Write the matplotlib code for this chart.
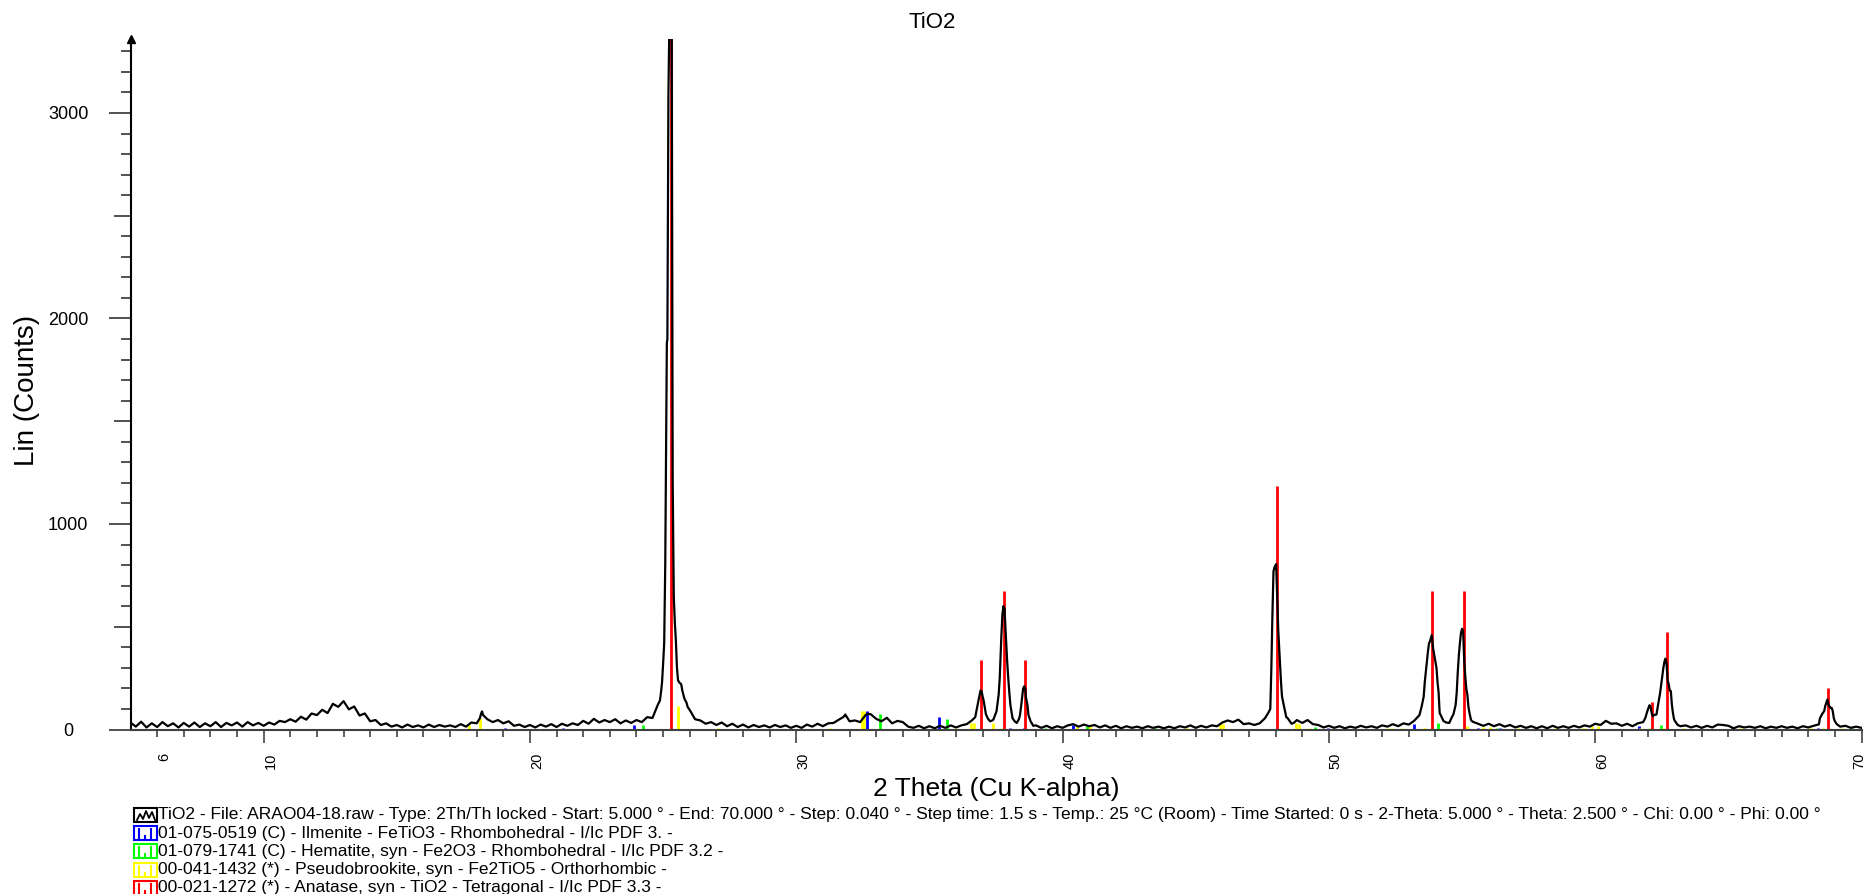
import numpy as np
import matplotlib
matplotlib.use("Agg")
import matplotlib.pyplot as plt
from matplotlib.patches import Rectangle
from matplotlib.lines import Line2D
from matplotlib.ticker import FixedLocator
import matplotlib.transforms as mtransforms

plt.rcParams['font.family'] = ['Liberation Sans', 'DejaVu Sans']

W, H, DPI = 1869, 894, 100

# ---- measured scan: counts on a 0.2 deg grid from 5 to 70 deg 2-theta ----
scan_start, scan_step = 5.0, 0.2
scan_counts = [
    34, 14, 38, 10, 30,   12, 36, 16, 30, 10,   32, 14, 34, 12, 30,   16, 36, 12, 32, 20,   # 5-8.8
    34, 14, 36, 20, 32,   18, 34, 24, 42, 36,   50, 38, 62, 48, 78,   70, 96, 80, 125, 110,  # 9-12.8
    138, 98, 112, 68, 78, 40, 46, 22, 30, 14,   22, 10, 24, 12, 20,   10, 24, 12, 22, 14,   # 13-16.8
    20, 12, 26, 14, 34,   30, 88, 50, 36, 46,   30, 40, 18, 24, 12,   22, 10, 24, 14, 26,   # 17-20.8
    12, 28, 18, 30, 22,   42, 28, 52, 34, 46,   36, 50, 30, 44, 32,   46, 36, 60, 56, 120,  # 21-24.8
    320, 3100, 650, 230, 150, 95, 50, 44, 28, 36, 22, 34, 16, 28, 12,  24, 10, 22, 12, 20,  # 25-28.8
    10, 22, 12, 20, 8,    18, 8, 24, 14, 28,    16, 30, 32, 48, 65,   40, 44, 36, 70, 74,   # 29-32.8
    52, 40, 57, 30, 42,   36, 14, 8, 18, 6,     16, 6, 18, 8, 20,     10, 20, 26, 45, 115,  # 33-36.8
    160, 52, 48, 170, 590, 180, 40, 70, 200, 40, 20, 8, 18, 6, 16,    8, 20, 26, 14, 24,   # 37-40.8
    16, 22, 10, 20, 8,    18, 6, 16, 8, 14,     6, 16, 8, 14, 6,      14, 6, 16, 10, 20,   # 41-44.8
    8, 18, 10, 20, 16,    34, 44, 36, 48, 26,   30, 22, 30, 55, 100,  800, 235, 60, 28, 46,  # 45-48.8
    32, 46, 26, 22, 10,   18, 8, 16, 6, 14,     8, 18, 10, 16, 8,     20, 14, 26, 16, 30,   # 49-52.8
    24, 42, 70, 230, 430, 330, 70, 34, 55, 180, 490, 170, 38, 28, 18, 28, 16, 26, 14, 22,  # 53-56.8
    10, 18, 8, 16, 6,     16, 6, 18, 8, 16,     8, 18, 10, 20, 14,    28, 22, 42, 28, 30,   # 57-60.8
    18, 28, 16, 30, 36,   105, 70, 150, 330, 190, 40, 16, 20, 10, 18, 8, 18, 10, 24, 22,   # 61-64.8
    18, 6, 16, 10, 14,    8, 16, 6, 14, 8,      16, 8, 14, 6, 16,     10, 18, 25, 90, 112,  # 65-68.8
    40, 14, 18, 8, 14,    8,                                                               # 69-70
]

# ---- additional measured points across the reflections ----
peak_theta = [
    18.12, 18.16, 18.24,
    24.88, 24.92, 24.96, 25.04, 25.08, 25.12, 25.14, 25.16, 25.24, 25.28, 25.32,
    25.34, 25.36, 25.44, 25.48, 25.52, 25.56, 25.68, 25.72, 25.88, 25.92,
    31.76, 31.84, 32.68,
    36.72, 36.84, 36.92, 36.96, 37.04, 37.12, 37.28, 37.36,
    37.52, 37.64, 37.70, 37.74, 37.78, 37.82, 37.86, 37.92, 37.96, 38.04, 38.12,
    38.28, 38.36, 38.44, 38.52, 38.56, 38.62, 38.68, 38.72, 38.90,
    47.72, 47.84, 47.88, 47.92, 47.96, 48.02, 48.06, 48.10, 48.14, 48.24, 48.30,
    48.44, 48.68, 48.88,
    53.48, 53.56, 53.64, 53.72, 53.76, 53.86, 53.92, 53.96, 54.04, 54.08, 54.12,
    54.16, 54.30,
    54.52, 54.68, 54.76, 54.84, 54.88, 54.92, 54.96, 55.04, 55.08, 55.12, 55.16,
    55.24, 55.28, 55.34,
    61.88, 61.96, 62.04, 62.08, 62.12, 62.16, 62.30, 62.44, 62.52, 62.56, 62.64,
    62.68, 62.72, 62.76, 62.84, 62.88, 62.92, 62.96, 63.10,
    68.44, 68.52, 68.64, 68.68, 68.72, 68.76, 68.84, 68.88, 68.92, 68.96, 69.08,
]
peak_counts = [
    55, 75, 70,
    141, 180, 230, 420, 800, 1500, 1880, 1900, 3500, 3800, 3600,
    2500, 1200, 520, 430, 300, 240, 220, 190, 130, 110,
    60, 73, 76,
    60, 140, 190, 185, 138, 75, 40, 44,
    89, 250, 450, 560, 600, 590, 480, 330, 250, 120, 55,
    32, 50, 110, 200, 210, 160, 120, 70, 18,
    80, 300, 560, 770, 790, 805, 640, 480, 380, 160, 122,
    57, 32, 40,
    110, 160, 280, 380, 420, 459, 390, 360, 300, 230, 180,
    80, 42,
    32, 75, 120, 280, 360, 420, 470, 480, 340, 260, 200,
    110, 80, 45,
    55, 90, 118, 110, 80, 65, 73, 180, 260, 300, 345,
    320, 240, 220, 187, 120, 80, 50, 22,
    55, 75, 115, 130, 146, 120, 105, 105, 90, 55, 25,
]

# ---- reference patterns: line positions (deg 2-theta) and drawn heights (counts) ----
anatase_pos = [25.28, 36.95, 37.80, 38.58, 48.05, 53.89, 55.06, 62.12, 62.69, 68.76]
anatase_int = [3383, 338, 676, 338, 1184, 676, 676, 135, 474, 203]

pseudobrookite_pos = [17.72, 18.12, 25.55, 27.05, 31.28, 32.47, 32.56, 35.97, 36.55, 36.68,
                      37.38, 37.72, 40.55, 41.04, 44.62, 44.68, 45.92, 46.02, 48.76, 48.86,
                      49.25, 52.23, 52.36, 52.74, 53.56, 53.62, 55.18, 55.80, 56.05, 57.11,
                      57.80, 58.49, 59.49, 59.60, 59.87, 60.12, 61.70, 62.05, 62.55, 63.30,
                      65.43, 65.56, 68.02, 68.10, 68.56, 69.25]
pseudobrookite_int = [20, 58, 112, 8, 8, 88, 88, 8, 32, 30,
                      32, 8, 16, 16, 8, 8, 28, 28, 30, 28,
                      8, 8, 8, 8, 8, 8, 16, 10, 12, 8,
                      8, 8, 8, 8, 16, 16, 8, 8, 5, 8,
                      8, 8, 8, 8, 5, 8]

ilmenite_pos = [19.08, 21.23, 23.92, 32.66, 35.35, 38.04, 38.54, 40.39, 41.54, 49.98,
                53.21, 55.61, 56.43, 61.65, 65.12, 68.35]
ilmenite_int = [5, 5, 20, 89, 60, 5, 5, 21, 4, 5,
                28, 5, 5, 16, 5, 5]

hematite_pos = [24.25, 33.16, 35.66, 39.33, 40.90, 43.48, 49.48, 54.11, 56.30, 57.43,
                62.47, 63.99, 66.12, 69.65]
hematite_int = [24, 73, 49, 6, 18, 5, 12, 34, 5, 5,
                24, 6, 4, 5]

legend_labels = [
    "TiO2 - File: ARAO04-18.raw - Type: 2Th/Th locked - Start: 5.000 \u00b0 - End: 70.000 \u00b0 - "
    "Step: 0.040 \u00b0 - Step time: 1.5 s - Temp.: 25 \u00b0C (Room) - Time Started: 0 s - "
    "2-Theta: 5.000 \u00b0 - Theta: 2.500 \u00b0 - Chi: 0.00 \u00b0 - Phi: 0.00 \u00b0",
    "01-075-0519 (C) - Ilmenite - FeTiO3 - Rhombohedral - I/Ic PDF 3. -",
    "01-079-1741 (C) - Hematite, syn - Fe2O3 - Rhombohedral - I/Ic PDF 3.2 -",
    "00-041-1432 (*) - Pseudobrookite, syn - Fe2TiO5 - Orthorhombic -",
    "00-021-1272 (*) - Anatase, syn - TiO2 - Tetragonal - I/Ic PDF 3.3 -",
]
legend_colors = ["#000000", "#0000ff", "#00ff00", "#ffff00", "#ff0000"]

x_major = [6, 10, 20, 30, 40, 50, 60, 70]
y_major = [0, 1000, 2000, 3000]
y_medium = [500, 1500, 2500]

# ---- assemble scan ----
scan_theta = np.round(scan_start + scan_step * np.arange(len(scan_counts)), 2)
theta = np.concatenate([scan_theta, peak_theta])
counts = np.concatenate([scan_counts, peak_counts])
order = np.argsort(theta, kind="stable")
theta, counts = theta[order], counts[order]

# ---- figure ----
fig = plt.figure(figsize=(W / DPI, H / DPI), dpi=DPI)
ax_left, ax_right, ax_top, ax_bottom = 130.5, 1861.5, 39.0, 729.5
ax = fig.add_axes([ax_left / W, 1 - ax_bottom / H,
                   (ax_right - ax_left) / W, (ax_bottom - ax_top) / H])

ax.set_xlim(5, 70)
ax.set_ylim(0, 3360)

sticks = [(ilmenite_pos, ilmenite_int, "#0000ff"),
          (hematite_pos, hematite_int, "#00ff00"),
          (pseudobrookite_pos, pseudobrookite_int, "#ffff00"),
          (anatase_pos, anatase_int, "#ff0000")]
for pos, inten, col in sticks:
    ax.vlines(pos, 0, inten, colors=col, lw=2.0, zorder=2)

ax.plot(theta, counts, color="black", lw=1.6, zorder=3)

for s in ("top", "right"):
    ax.spines[s].set_visible(False)
ax.spines["left"].set_color("black")
ax.spines["left"].set_linewidth(1.5)
ax.spines["bottom"].set_color("#404040")
ax.spines["bottom"].set_linewidth(1.5)

# x axis ticks
ax.set_xticks(x_major)
ax.set_xticklabels([str(v) for v in x_major])
ax.xaxis.set_minor_locator(FixedLocator([v for v in range(7, 70) if v % 10]))
ax.tick_params(axis="x", which="major", direction="out", length=9.4, width=1.1,
               color="#333333", pad=7.6, labelsize=10.5, labelrotation=90)
ax.tick_params(axis="x", which="minor", direction="out", length=5.0, width=1.1,
               color="#333333")
ax.xaxis.get_major_ticks()[0].tick1line.set_markersize(5.0)
xlabels = ax.get_xticklabels()
for k, lbl in enumerate(xlabels):
    dx = 7 if k < len(xlabels) - 1 else -2   # keep the last label inside the canvas
    lbl.set_transform(lbl.get_transform()
                      + mtransforms.ScaledTranslation(dx / DPI, 0, fig.dpi_scale_trans))

# y axis ticks
ax.set_yticks(y_major)
ax.set_yticklabels([str(v) for v in y_major])
ax.yaxis.set_minor_locator(FixedLocator([v for v in range(100, 3400, 100) if v % 500]))
ax.tick_params(axis="y", which="major", direction="out", length=15.8, width=1.1,
               color="#222222", pad=29, labelsize=13)
ax.tick_params(axis="y", which="minor", direction="out", length=7.2, width=1.1,
               color="#222222")
for lbl in ax.get_yticklabels():
    lbl.set_horizontalalignment("center")

sec = ax.secondary_yaxis("left")
sec.set_yticks(y_medium)
sec.tick_params(axis="y", direction="out", length=12.2, width=1.1, color="#222222",
                labelleft=False)
for sp in sec.spines.values():
    sp.set_visible(False)

# arrow head at the top of the intensity axis
ax.plot([0], [1], marker="^", ms=6, color="black", transform=ax.transAxes,
        clip_on=False, zorder=5)

# labels
ax.set_xlabel("2 Theta (Cu K-alpha)", fontsize=19)
ax.xaxis.set_label_coords(0.5, -(789 - ax_bottom) / (ax_bottom - ax_top))
ax.xaxis.label.set_va("center")
ax.set_ylabel("Lin (Counts)", fontsize=20)
ax.yaxis.set_label_coords((27.5 - ax_left) / (ax_right - ax_left),
                          (ax_bottom - 390) / (ax_bottom - ax_top))
ax.yaxis.label.set_va("center")

fig.text(932 / W, 1 - 22.5 / H, "TiO2", ha="center", va="center", fontsize=16)

# legend block under the axis
def fx(px):
    return px / W

def fy(py):
    return 1 - py / H

for i, (label, col) in enumerate(zip(legend_labels, legend_colors)):
    yc = 815 + i * 18.2
    fig.patches.append(Rectangle((fx(134), fy(yc + 7)), 23 / W, 14 / H,
                                 transform=fig.transFigure, fill=False,
                                 edgecolor=col, lw=1.5))
    if i == 0:
        xs = [137, 140, 143, 146, 149, 152, 155]
        ys = [yc + 5, yc - 1, yc + 4, yc - 4, yc + 3, yc - 3, yc + 5]
        fig.lines.append(Line2D([fx(v) for v in xs], [fy(v) for v in ys],
                                transform=fig.transFigure, color=col, lw=1.3))
    else:
        for bx, top in ((139, yc - 4), (145, yc + 3), (151, yc - 4)):
            fig.lines.append(Line2D([fx(bx), fx(bx)], [fy(yc + 6), fy(top)],
                                    transform=fig.transFigure, color=col, lw=1.5))
    fig.text(fx(158), fy(yc), label, ha="left", va="center", fontsize=12.5)

fig.savefig("out.png", dpi=DPI)
